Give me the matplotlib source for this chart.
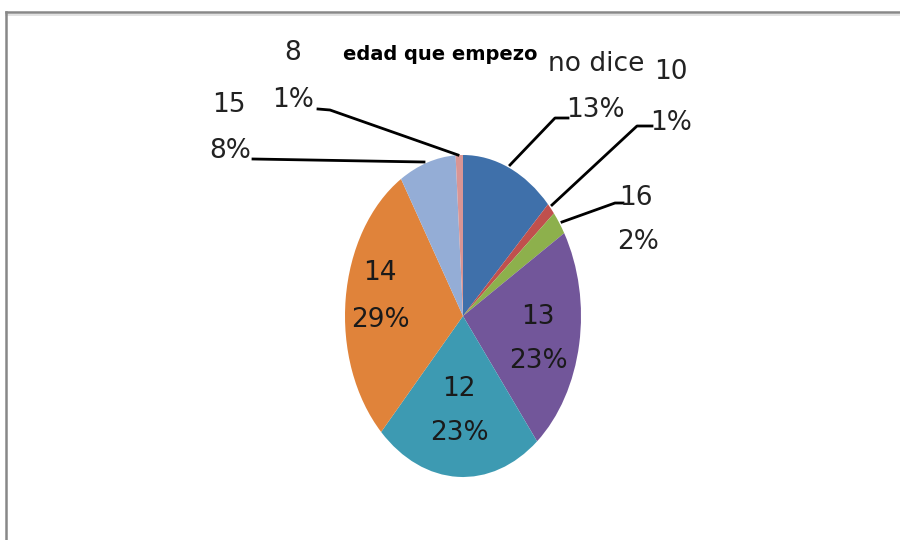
import matplotlib.pyplot as plt
from matplotlib.lines import Line2D

# wedges in clockwise order from the top
labels = ['no dice', '10', '16', '13', '12', '14', '15', '8']
values = [12.8, 1.2, 2.4, 22.8, 23.0, 29.0, 7.8, 1.0]
colors = ['#3F70AA', '#C0504D', '#8DB04C', '#72569A', '#3D9AB2', '#E0833A', '#94ADD6', '#D99594']
title = 'edad que empezo'

plt.rcParams['font.family'] = ['DejaVu Sans Condensed', 'Liberation Sans Narrow', 'DejaVu Sans']

W, H = 900, 540
fig = plt.figure(figsize=(9, 5.4), dpi=100)

# the pie is drawn stretched (taller than wide), so the axes box is the ellipse box
cx, cy, rx, ry = 463, 316, 118, 161
ax = fig.add_axes([(cx - rx) / W, 1 - (cy + ry) / H, 2 * rx / W, 2 * ry / H])
wedges, _ = ax.pie(values, colors=colors, startangle=90, counterclock=False,
                   wedgeprops=dict(linewidth=0))
ax.set_aspect('auto')
ax.set_xlim(-1, 1)
ax.set_ylim(-1, 1)
ax.axis('off')


def px(x, y):
    # pixel coords of the picture -> figure fraction
    return x / W, 1 - y / H


total = sum(values)
pct = [f'{round(v / total * 100)}%' for v in values]
fs = 19

# labels inside the big wedges
inside = {3: (538, 317, 361), 4: (459, 389, 433), 5: (380, 273, 320)}
for i, (x, y1, y2) in inside.items():
    fig.text(*px(x, y1), labels[i], ha='center', va='center', fontsize=fs, color='#1a1a1a')
    fig.text(*px(x, y2), pct[i], ha='center', va='center', fontsize=fs, color='#1a1a1a')

# outside labels: (name pos, pct pos, leader points)
outside = {
    0: ((596, 64), (595, 110), [(568, 118), (555, 118), (510, 165)]),
    1: ((671, 72), (671, 123), [(652, 126), (637, 126), (552, 205)]),
    2: ((636, 198), (638, 242), [(623, 203), (615, 203), (562, 222)]),
    6: ((229, 105), (230, 151), [(253, 159), (424, 162)]),
    7: ((293, 53), (293, 100), [(318, 109), (330, 110), (458, 155)]),
}
for i, (p1, p2, pts) in outside.items():
    fig.text(*px(*p1), labels[i], ha='center', va='center', fontsize=fs, color='#222222')
    fig.text(*px(*p2), pct[i], ha='center', va='center', fontsize=fs, color='#222222')
    xs = [p[0] / W for p in pts]
    ys = [1 - p[1] / H for p in pts]
    fig.add_artist(Line2D(xs, ys, color='black', linewidth=2))

fig.text(*px(440, 55), title, ha='center', va='center', fontsize=14, fontweight='bold')

# chart frame (only top and left edges visible)
fig.add_artist(Line2D([6 / W, 1], [1 - 12 / H, 1 - 12 / H], color='#888888', linewidth=1.8))
fig.add_artist(Line2D([6 / W, 1], [1 - 14.5 / H, 1 - 14.5 / H], color='#dddddd', linewidth=1.2))
fig.add_artist(Line2D([6 / W, 6 / W], [1 - 12 / H, 0], color='#888888', linewidth=1.8))

fig.savefig('out.png', dpi=100)
